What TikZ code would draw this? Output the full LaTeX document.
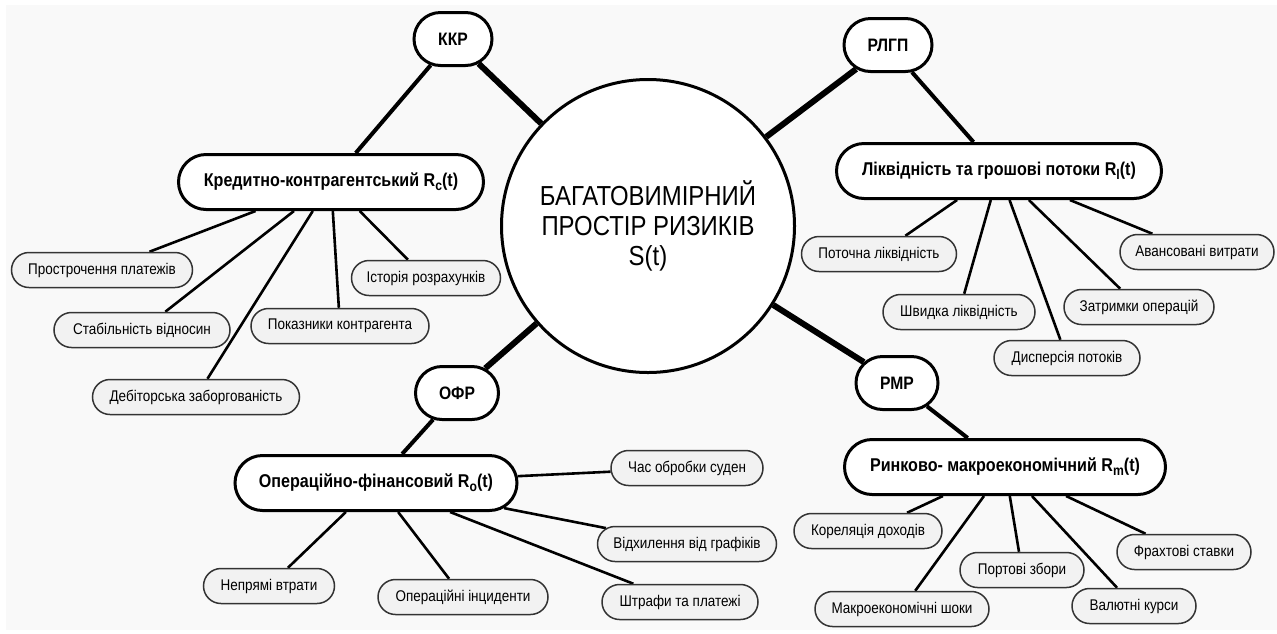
\documentclass[tikz,border=0pt]{standalone}
\usepackage{fontspec}
\setmainfont[FakeStretch=0.87]{Liberation Sans}
\usetikzlibrary{backgrounds,shapes.misc}
\definecolor{bggray}{HTML}{F9F9F9}
\definecolor{leafgray}{HTML}{F2F2F2}
\definecolor{leafline}{HTML}{333333}
\pgfdeclarelayer{back}
\pgfsetlayers{back,background,main}
\newcommand{\sbs}[1]{\raisebox{-0.4ex}{\fontsize{14}{14}\selectfont #1}}
\tikzset{
  x=1pt, y=-1pt,
  hub/.style={circle, draw, line width=3pt, fill=white, minimum size=293pt, align=center, inner sep=0pt,
    font=\fontsize{27.5}{30}\selectfont},
  abbr/.style={rounded rectangle, draw, line width=3pt, fill=white, minimum height=53pt, inner sep=0pt,
    font=\bfseries\fontsize{18}{20}\selectfont},
  cat/.style={rounded rectangle, draw, line width=3pt, fill=white, minimum height=55pt, inner sep=0pt,
    font=\bfseries\fontsize{18.5}{20}\selectfont},
  leaf/.style={rounded rectangle, draw=leafline, line width=1.5pt, fill=leafgray, minimum height=35pt, inner sep=0pt,
    font=\fontsize{15.5}{18}\selectfont},
  thickedge/.style={line width=6pt},
  midedge/.style={line width=4pt},
  leafedge/.style={line width=2.6pt},
}
\begin{document}
\begin{tikzpicture}
\useasboundingbox (0,0) rectangle (1277,633);
\begin{pgfonlayer}{back}
\fill[white] (0,0) rectangle (1277,633);
\fill[bggray] (6,5) rectangle (1277,630);
\end{pgfonlayer}

% hub
\node[hub] (hub) at (648,226) {БАГАТОВИМІРНИЙ\\ПРОСТІР РИЗИКІВ\\S(t)};

% abbreviations
\node[abbr, minimum width=78pt] (kkr) at (453,39) {ККР};
\node[abbr, minimum width=88pt] (rlgp) at (888,45) {РЛГП};
\node[abbr, minimum width=83pt] (ofr) at (457,393) {ОФР};
\node[abbr, minimum width=82pt] (rmr) at (897,383) {РМР};

% categories
\node[cat, minimum width=305pt] (rc) at (331,182) {Кредитно-контрагентський R\sbs{c}(t)};
\node[cat, minimum width=325pt] (rl) at (999,171) {Ліквідність та грошові потоки R\sbs{l}(t)};
\node[cat, minimum width=282pt] (ro) at (376,483) {Операційно-фінансовий R\sbs{o}(t)};
\node[cat, minimum width=321pt] (rm) at (1005,467) {Ринково- макроекономічний R\sbs{m}(t)};

% leaves of Rc
\node[leaf, minimum width=181pt] (c1) at (102,270) {Прострочення платежів};
\node[leaf, minimum width=176pt] (c2) at (142,330) {Стабільність відносин};
\node[leaf, minimum width=207pt] (c3) at (196,397) {Дебіторська заборгованість};
\node[leaf, minimum width=178pt] (c4) at (340,326) {Показники контрагента};
\node[leaf, minimum width=149pt] (c5) at (426,278) {Історія розрахунків};

% leaves of Rl
\node[leaf, minimum width=155pt] (l1) at (879,254) {Поточна ліквідність};
\node[leaf, minimum width=152pt] (l2) at (959,312) {Швидка ліквідність};
\node[leaf, minimum width=146pt] (l3) at (1067,358) {Дисперсія потоків};
\node[leaf, minimum width=150pt] (l4) at (1139,307) {Затримки операцій};
\node[leaf, minimum width=154pt] (l5) at (1197,252) {Авансовані витрати};

% leaves of Ro
\node[leaf, minimum width=152pt] (o1) at (687,468) {Час обробки суден};
\node[leaf, minimum width=179pt] (o2) at (687,544) {Відхилення від графіків};
\node[leaf, minimum width=156pt] (o3) at (680,602) {Штрафи та платежі};
\node[leaf, minimum width=131pt] (o4) at (269,586) {Непрямі втрати};
\node[leaf, minimum width=170pt] (o5) at (463,597) {Операційні інциденти};

% leaves of Rm
\node[leaf, minimum width=148pt] (m1) at (868,531) {Кореляція доходів};
\node[leaf, minimum width=124pt] (m2) at (1022,570) {Портові збори};
\node[leaf, minimum width=134pt] (m3) at (1184,552) {Фрахтові ставки};
\node[leaf, minimum width=124pt] (m4) at (1134,606) {Валютні курси};
\node[leaf, minimum width=174pt] (m5) at (902,609) {Макроекономічні шоки};

\begin{pgfonlayer}{background}
\draw[thickedge] (hub) -- (kkr);
\draw[thickedge] (hub) -- (rlgp);
\draw[thickedge] (hub) -- (ofr);
\draw[thickedge] (hub) -- (rmr);
\draw[midedge] (kkr) -- (rc);
\draw[midedge] (rlgp) -- (rl);
\draw[midedge] (ofr) -- (ro);
\draw[midedge] (rmr) -- (rm);
\foreach \l in {c1,c2,c3,c4,c5} \draw[leafedge] (rc) -- (\l);
\foreach \l in {l1,l2,l3,l4,l5} \draw[leafedge] (rl) -- (\l);
\foreach \l in {o1,o2,o3,o4,o5} \draw[leafedge] (ro) -- (\l);
\foreach \l in {m1,m2,m3,m4,m5} \draw[leafedge] (rm) -- (\l);
\end{pgfonlayer}
\end{tikzpicture}
\end{document}
